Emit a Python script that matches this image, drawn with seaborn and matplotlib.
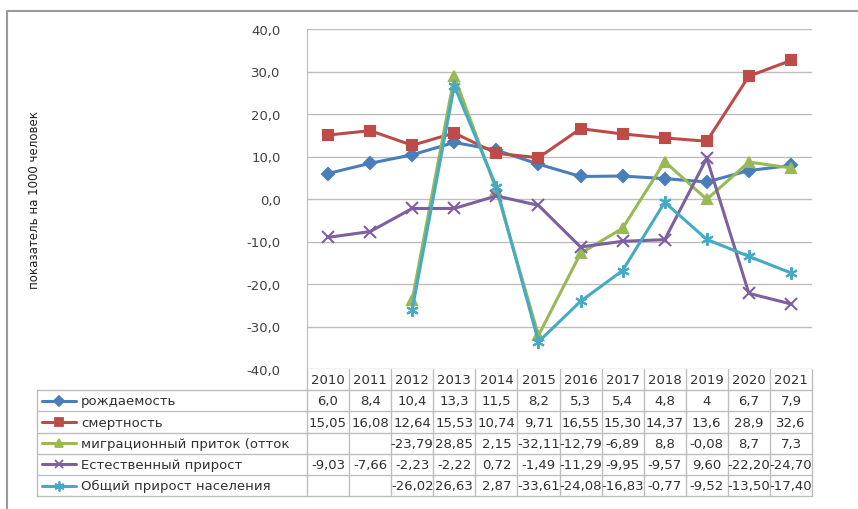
import numpy as np
import pandas as pd
import seaborn as sns
import matplotlib.pyplot as plt
from matplotlib.lines import Line2D

# Table values as written in the chart (also the plotted values)
years = ['2010', '2011', '2012', '2013', '2014', '2015', '2016', '2017', '2018', '2019', '2020', '2021']
births = ['6,0', '8,4', '10,4', '13,3', '11,5', '8,2', '5,3', '5,4', '4,8', '4', '6,7', '7,9']
deaths = ['15,05', '16,08', '12,64', '15,53', '10,74', '9,71', '16,55', '15,30', '14,37', '13,6', '28,9', '32,6']
migration = ['', '', '-23,79', '28,85', '2,15', '-32,11', '-12,79', '-6,89', '8,8', '-0,08', '8,7', '7,3']
natural = ['-9,03', '-7,66', '-2,23', '-2,22', '0,72', '-1,49', '-11,29', '-9,95', '-9,57', '9,60', '-22,20', '-24,70']
total = ['', '', '-26,02', '26,63', '2,87', '-33,61', '-24,08', '-16,83', '-0,77', '-9,52', '-13,50', '-17,40']

series_names = ['рождаемость', 'смертность', 'миграционный приток (отток', 'Естественный прирост',
                'Общий прирост населения']
series_text = [births, deaths, migration, natural, total]
colors = ['#4A7EBB', '#BE4B48', '#98B954', '#7D60A0', '#46AAC5']
markers = ['D', 's', '^', 'x', (6, 2, 0)]
msizes = [6, 7.5, 7.5, 8, 9]


def to_num(s):
    return float(s.replace(',', '.')) if s else np.nan


sns.set_style('white')
plt.rcParams['font.family'] = ['DejaVu Sans']

W, H = 858, 510
fig = plt.figure(figsize=(W / 100, H / 100), dpi=100)


# pixel (from top-left) -> figure fraction
def fx(x):
    return x / W


def fy(y):
    return 1 - y / H


def fig_line(xs, ys, **kw):
    fig.add_artist(Line2D([fx(v) for v in xs], [fy(v) for v in ys], transform=fig.transFigure, **kw))


# plot area
x0, x1, y_top, y_bot = 307, 812, 30, 370
ax = fig.add_axes([fx(x0), fy(y_bot), fx(x1) - fx(x0), fy(y_top) - fy(y_bot)])
ax.patch.set_alpha(0)

for name, txt, c, m, ms in zip(series_names, series_text, colors, markers, msizes):
    df = pd.DataFrame({'x': np.arange(len(years)), 'y': [to_num(s) for s in txt]}).dropna()
    sns.lineplot(data=df, x='x', y='y', color=c, marker=m, markersize=ms, linewidth=2.2,
                 markeredgecolor=c, markeredgewidth=1.5, ax=ax, legend=False)

ax.set_xlim(-0.5, len(years) - 0.5)
ax.set_ylim(-40, 40)
ax.set_yticks(np.arange(-40, 41, 10))
ax.set_yticklabels([f'{v:.1f}'.replace('.', ',') for v in np.arange(-40, 41, 10)], fontsize=9.5, color='#404040')
ax.set_xticks([])
ax.set_xlabel('')
ax.set_ylabel('')
ax.grid(axis='y', color='#BDBDBD', linewidth=1)
ax.tick_params(axis='y', length=5, color='#BDBDBD', direction='out', pad=14)
for side in ['top', 'right', 'bottom']:
    ax.spines[side].set_visible(False)
ax.spines['left'].set_color('#BDBDBD')

fig.text(fx(35), fy(200), 'показатель на 1000 человек', rotation=90, ha='center', va='center',
         fontsize=8.5, color='#202020')

# chart border (top and left visible)
fig_line([7, W], [12, 12], color='#9A9A9A', lw=1.5)
fig_line([7, 7], [12, H], color='#9A9A9A', lw=1.5)

# keep the right side of the plot area open, as in the reference
fig_line([x1 + 0.5, x1 + 0.5], [y_top - 2, y_bot - 1], color='white', lw=2, zorder=5)

# data table under the plot
cw = (x1 - x0) / len(years)
row_h = 21.2
lab_x0 = 37
grid_c = '#BDBDBD'
n_rows = len(series_names)
bottom = y_bot + row_h * (n_rows + 1)

for i in range(len(years) + 1):
    fig_line([x0 + i * cw] * 2, [y_bot, bottom], color=grid_c, lw=1)
fig_line([lab_x0] * 2, [y_bot + row_h, bottom], color=grid_c, lw=1)
for r in range(1, n_rows + 2):
    yy = y_bot + r * row_h
    fig_line([lab_x0, x1], [yy, yy], color=grid_c, lw=1)

for i, yr in enumerate(years):
    fig.text(fx(x0 + (i + 0.5) * cw), fy(y_bot + row_h / 2), yr, ha='center', va='center',
             fontsize=9.5, color='#303030')

for r, (name, txt, c, m, ms) in enumerate(zip(series_names, series_text, colors, markers, msizes)):
    yc = y_bot + (r + 1.5) * row_h
    fig_line([42, 76], [yc, yc], color=c, lw=2.2)
    fig_line([59], [yc], color=c, marker=m, markersize=ms * 0.8, markeredgecolor=c, markeredgewidth=1.3)
    fig.text(fx(81), fy(yc), name, ha='left', va='center', fontsize=9.5, color='#303030')
    for i, s in enumerate(txt):
        fig.text(fx(x0 + (i + 0.5) * cw), fy(yc), s, ha='center', va='center', fontsize=9.5, color='#303030')

fig.savefig('out.png', dpi=100)
